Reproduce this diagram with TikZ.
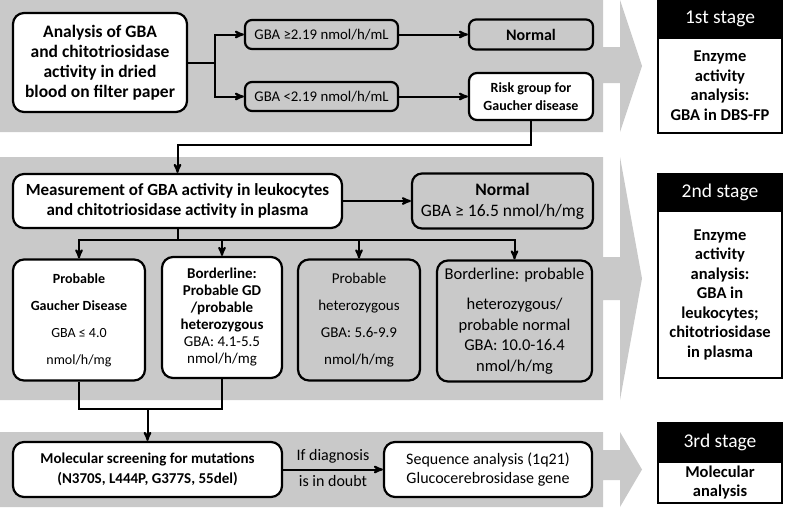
\documentclass[tikz,border=0pt]{standalone}
\usepackage{fontspec}
\setmainfont{Carlito}
\usepackage{tikz}
\usetikzlibrary{arrows, positioning}
\definecolor{bandgray}{RGB}{201,201,201}

\begin{document}
\begin{tikzpicture}[x=1pt, y=-1pt,
				>=stealth',
				wbox/.style={draw, line width=2.2pt, fill=white, rounded corners=11pt, align=center, inner sep=0pt},
				gbox/.style={draw, line width=2.2pt, fill=bandgray, rounded corners=7pt, align=center, inner sep=0pt},
				headbox/.style={draw, line width=1.8pt, fill=black, text=white, minimum width=124pt, inner sep=0pt, font=\fontsize{19.5}{22}\selectfont},
				bodybox/.style={draw, line width=1.8pt, fill=white, minimum width=124pt, align=center, inner sep=0pt, font=\bfseries\fontsize{16.5}{19.5}\selectfont},
				link/.style={->, line width=2pt}]
				\useasboundingbox (0,0) rectangle (785,512);
				% gray bands with their big arrows
				\foreach \top/\bot/\sa/\sb in {0/132/47/83, 157/400/257/300, 432/507/450/480}
					\fill[bandgray] (0,\top) -- (603,\top) -- (603,\sa) -- (620,\sa) -- (620,\top) -- (642,{(\top+\bot)/2}) -- (620,\bot) -- (620,\sb) -- (603,\sb) -- (603,\bot) -- (0,\bot) -- cycle;
				% 1st stage
				\node[wbox, minimum width=174pt, minimum height=99pt, font=\bfseries\fontsize{17.5}{20}\selectfont] (ana) at (100,62.5) {Analysis of GBA\\and chitotriosidase\\activity in dried\\blood on filter paper};
				\node[gbox, minimum width=153pt, minimum height=29pt, font=\fontsize{14.8}{17}\selectfont] (hi1) at (321.5,34.5) {GBA ≥2.19 nmol/h/mL};
				\node[gbox, minimum width=153pt, minimum height=29pt, font=\fontsize{14.8}{17}\selectfont] (lo1) at (321.5,96.5) {GBA <2.19 nmol/h/mL};
				\node[gbox, minimum width=124pt, minimum height=30pt, font=\bfseries\fontsize{16}{18}\selectfont] (nor1) at (531,34.5) {Normal};
				\node[wbox, rounded corners=8pt, minimum width=124pt, minimum height=47pt, font=\bfseries\fontsize{14}{18}\selectfont] (risk) at (531,96.5) {Risk group for\\Gaucher disease};
				\coordinate (j1) at (215,62.5);
				\draw[line width=2pt] (ana) -- (j1);
				\draw[link] (j1) |- (hi1);
				\draw[link] (j1) |- (lo1);
				\draw[link] (hi1) -- (nor1);
				\draw[link] (lo1) -- (risk);
				% 2nd stage
				\node[wbox, minimum width=329pt, minimum height=54pt, font=\bfseries\fontsize{17}{20}\selectfont] (meas) at (177.5,201) {Measurement of GBA activity in leukocytes\\and chitotriosidase activity in plasma};
				\node[gbox, rounded corners=10pt, minimum width=181pt, minimum height=55pt, font=\fontsize{17.5}{21}\selectfont] (nor2) at (502.5,201) {\textbf{Normal}\\GBA ≥ 16.5 nmol/h/mg};
				\node[wbox, minimum width=132pt, minimum height=121pt, font=\fontsize{14}{27}\selectfont] (pgd) at (79,320) {\textbf{Probable}\\\textbf{Gaucher Disease}\\GBA ≤ 4.0\\nmol/h/mg};
				\node[wbox, minimum width=120pt, minimum height=121pt, font=\fontsize{15}{17}\selectfont] (bord) at (222,317.5) {\textbf{Borderline:}\\\textbf{Probable GD}\\\textbf{/probable}\\\textbf{heterozygous}\\GBA: 4.1-5.5\\nmol/h/mg};
				\node[gbox, rounded corners=11pt, minimum width=122pt, minimum height=121pt, font=\fontsize{15}{27}\selectfont] (phet) at (359,320) {Probable\\heterozygous\\GBA: 5.6-9.9\\nmol/h/mg};
				\node[gbox, rounded corners=11pt, minimum width=155pt, minimum height=121pt, font=\fontsize{16.5}{20.5}\selectfont] (bnorm) at (514.5,321) {Borderline: probable\\[10pt]heterozygous/\\probable normal\\GBA: 10.0-16.4\\nmol/h/mg};
				\coordinate (j2) at (177.5,145);
				\coordinate (j3) at (177.5,240);
				\draw[link] (risk) |- (j2) -- (meas);
				\draw[link] (meas) -- (nor2);
				\draw[line width=2pt] (meas) -- (j3);
				\foreach \n in {pgd, bord, phet, bnorm}
					\draw[link] (j3) -| (\n);
				% 3rd stage
				\node[wbox, minimum width=269pt, minimum height=55pt, font=\bfseries\fontsize{15}{20}\selectfont] (mol) at (147.5,469.5) {Molecular screening for mutations\\(N370S, L444P, G377S, 55del)};
				\node[wbox, minimum width=208pt, minimum height=55pt, font=\fontsize{16}{19}\selectfont] (seq) at (488,469.5) {Sequence analysis (1q21)\\Glucocerebrosidase gene};
				\coordinate (j4) at (147.5,409);
				\draw[line width=2pt] (pgd) |- (j4) -| (bord);
				\draw[link] (j4) -- (mol);
				\draw[link] (mol) -- node[above=2pt, font=\fontsize{16}{18}\selectfont] (if) {If diagnosis} node[below=2pt, font=\fontsize{16}{18}\selectfont] (doubt) {is in doubt} (seq);
				% stage labels on the right
				\node[headbox, minimum height=38pt] (h1) at (720,19) {1st stage};
				\node[bodybox, minimum height=95pt] (s1) at (720,85.5) {Enzyme\\activity\\analysis:\\GBA in DBS-FP};
				\node[headbox, minimum height=37pt] (h2) at (720,192.5) {2nd stage};
				\node[bodybox, minimum height=167pt] (s2) at (720,294.5) {Enzyme\\activity\\analysis:\\GBA in\\leukocytes;\\chitotriosidase\\in plasma};
				\node[headbox, minimum height=39pt] (h3) at (720,442.5) {3rd stage};
				\node[bodybox, minimum height=41pt] (s3) at (720,482.5) {Molecular\\analysis};
			\end{tikzpicture}
\end{document}
